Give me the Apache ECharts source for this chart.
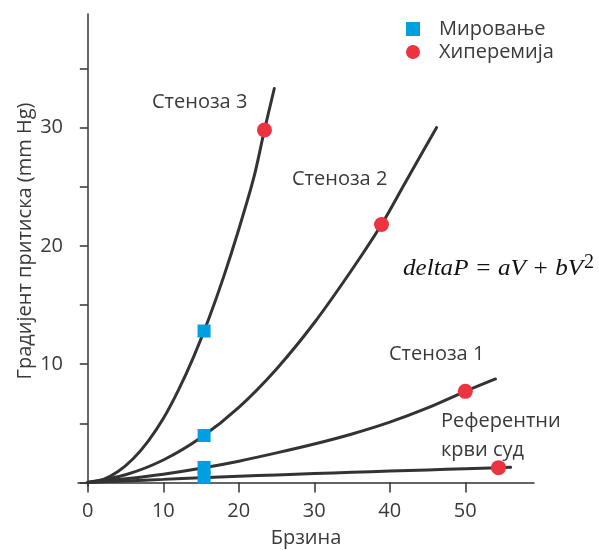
<!DOCTYPE html>
<html>
<head>
<meta charset="utf-8">
<script src="https://cdn.jsdelivr.net/npm/echarts@6/dist/echarts.min.js"></script>
<style>html,body{margin:0;padding:0;background:#fff}#c{width:599px;height:550px}</style>
</head>
<body>
<div id="c"></div>
<script>
// Curves: [velocity, pressure gradient]
var stenosis3 = [[0,0],[2,0.24],[4,0.92],[6,2.0],[8,3.5],[10,5.4],[12,7.8],[14,10.6],[16,13.8],[18,17.4],[20,21.4],[22,25.8],[23.4,29.8],[24.7,33.3]];
var stenosis2 = [[0,0],[5,0.65],[10,1.9],[15,3.8],[20,6.35],[25,9.6],[30,13.5],[35,18.0],[38.9,21.8],[42,25.3],[46.2,30.0]];
var stenosis1 = [[0,0],[5,0.31],[10,0.7],[15,1.2],[20,1.8],[25,2.5],[30,3.25],[35,4.1],[40,5.1],[45,6.3],[50,7.7],[54,8.75]];
var reference = [[0,0],[5,0.13],[10,0.26],[15,0.4],[20,0.52],[25,0.64],[30,0.75],[35,0.86],[40,0.96],[45,1.06],[50,1.16],[54.4,1.25],[56,1.29]];
var restPoints = [[15.4,12.8],[15.4,3.97],[15.4,1.27],[15.4,0.43]];
var hyperPoints = [[23.4,29.8],[38.9,21.8],[50,7.7],[54.4,1.25]];
var xTicks = [0,10,20,30,40,50];
var yTicks = [0,5,10,15,20,25,30,35];
var yLabels = [10,20,30];
var seriesNames = ['Мировање','Хиперемија'];
var curveLabels = ['Стеноза 3','Стеноза 2','Стеноза 1','Референтни\nкрви суд'];

var FONT = 'Open Sans';
var TXT = '#3a3a3a';
var chart = echarts.init(document.getElementById('c'), null, {renderer:'canvas'});
function lineSeries(d){
  return {type:'line', data:d, smooth:0.3, symbol:'none',
    lineStyle:{color:'#333', width:3, cap:'round'}, z:2, silent:true};
}
chart.setOption({
  animation:false,
  grid:{left:78, right:65, top:14, bottom:64, outerBoundsMode:'none', containLabel:false},
  legend:{
    orient:'vertical', left:406, top:19, padding:0, itemWidth:14, itemHeight:14, itemGap:3,
    data:[{name:seriesNames[0], icon:'rect'},{name:seriesNames[1], icon:'circle'}],
    textStyle:{fontFamily:FONT, fontSize:20, color:TXT, padding:[0,0,0,14]}
  },
  xAxis:{
    type:'value', min:-1.3, max:59.1,
    name:'Брзина', nameLocation:'middle', nameGap:42, nameMoveOverlap:false,
    nameTextStyle:{fontFamily:FONT, fontSize:20, color:TXT},
    axisLine:{onZero:true, lineStyle:{color:'#333', width:1.5}},
    axisTick:{show:true, length:10, customValues:xTicks, lineStyle:{color:'#333', width:1.5}},
    axisLabel:{customValues:xTicks, margin:15, fontFamily:FONT, fontSize:20, color:TXT},
    splitLine:{show:false}
  },
  yAxis:{
    type:'value', min:-0.3, max:39.6,
    name:'Градијент притиска (mm Hg)', nameLocation:'middle', nameGap:43, nameRotate:90, nameMoveOverlap:false,
    nameTextStyle:{fontFamily:FONT, fontSize:20, color:TXT, padding:[0,0,0,18]},
    axisLine:{show:true, onZero:true, lineStyle:{color:'#333', width:1.5}},
    axisTick:{show:true, length:8, customValues:yTicks, lineStyle:{color:'#333', width:1.5}},
    axisLabel:{customValues:yLabels, margin:15, fontFamily:FONT, fontSize:20, color:TXT},
    splitLine:{show:false}
  },
  series:[
    lineSeries(stenosis3), lineSeries(stenosis2), lineSeries(stenosis1), lineSeries(reference),
    {name:seriesNames[0], type:'scatter', data:restPoints, symbol:'rect', symbolSize:13,
     itemStyle:{color:'#00A0E0', opacity:1}, z:5, silent:true},
    {name:seriesNames[1], type:'scatter', data:hyperPoints, symbol:'circle', symbolSize:15,
     itemStyle:{color:'#EE3340', opacity:1}, z:6, silent:true}
  ],
  graphic:[
    {type:'text', left:152, top:92, style:{text:curveLabels[0], font:'20px "Open Sans"', fill:TXT}},
    {type:'text', left:292, top:169, style:{text:curveLabels[1], font:'20px "Open Sans"', fill:TXT}},
    {type:'text', left:389, top:344, style:{text:curveLabels[2], font:'20px "Open Sans"', fill:TXT}},
    {type:'text', left:441, top:407, style:{text:curveLabels[3], font:'20px "Open Sans"', fill:TXT, lineHeight:29}},
    {type:'text', x:403, y:269, scaleX:1.09, style:{text:'deltaP = aV + bV', font:'italic 23px "Liberation Serif"', fill:'#111', verticalAlign:'middle'}},
    {type:'text', x:584, y:263, style:{text:'2', font:'20px "Liberation Serif"', fill:'#111', verticalAlign:'middle'}}
  ]
});
</script>
</body>
</html>
